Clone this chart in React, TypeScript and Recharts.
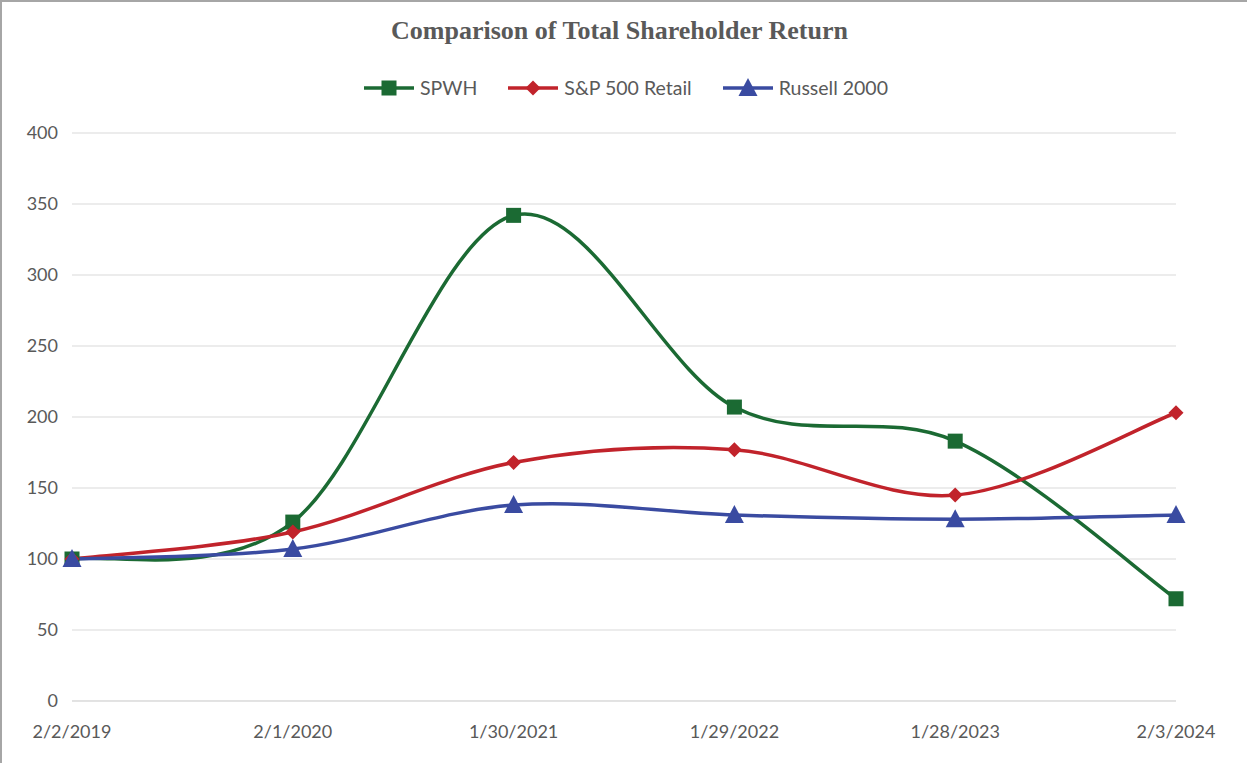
import React from "react";
import { LineChart, Line, XAxis, YAxis, CartesianGrid } from "recharts";

const dates = ["2/2/2019", "2/1/2020", "1/30/2021", "1/29/2022", "1/28/2023", "2/3/2024"];
const spwh = [100, 126, 342, 207, 183, 72];
const spRetail = [100, 119, 168, 177, 145, 203];
const russell = [100, 107, 138, 131, 128, 131];
const yTicks = [0, 50, 100, 150, 200, 250, 300, 350, 400];

const data = dates.map((d, i) => ({ date: d, spwh: spwh[i], retail: spRetail[i], russell: russell[i] }));

const GREEN = "#1b6a33";
const RED = "#c1232b";
const BLUE = "#3a4ba1";
const TEXT = "#595959";
const FONT = "Lato, 'Open Sans', sans-serif";

// excel-style smoothing (catmull-rom as bezier)
function excelCurve(context: any) {
  let pts: number[][] = [];
  return {
    areaStart() {},
    areaEnd() {},
    lineStart() {
      pts = [];
    },
    point(x: number, y: number) {
      pts.push([+x, +y]);
    },
    lineEnd() {
      if (!pts.length) return;
      context.moveTo(pts[0][0], pts[0][1]);
      for (let i = 0; i < pts.length - 1; i++) {
        const p0 = pts[i - 1] || pts[i];
        const p1 = pts[i];
        const p2 = pts[i + 1];
        const p3 = pts[i + 2] || p2;
        context.bezierCurveTo(
          p1[0] + (p2[0] - p0[0]) / 6,
          p1[1] + (p2[1] - p0[1]) / 6,
          p2[0] - (p3[0] - p1[0]) / 6,
          p2[1] - (p3[1] - p1[1]) / 6,
          p2[0],
          p2[1]
        );
      }
    },
  };
}

function Marker({ kind, cx, cy, color }: { kind: string; cx: number; cy: number; color: string }) {
  if (kind === "square") return <rect x={cx - 7.5} y={cy - 7.5} width={15} height={15} fill={color} />;
  if (kind === "diamond")
    return <polygon points={`${cx},${cy - 7.5} ${cx + 7.5},${cy} ${cx},${cy + 7.5} ${cx - 7.5},${cy}`} fill={color} />;
  return <polygon points={`${cx},${cy - 10} ${cx + 9.5},${cy + 8} ${cx - 9.5},${cy + 8}`} fill={color} />;
}

const dot = (kind: string, color: string) => (p: any) =>
  <Marker key={p.index} kind={kind} cx={p.cx} cy={p.cy} color={color} />;

const legendItems = [
  { name: "SPWH", kind: "square", color: GREEN },
  { name: "S&P 500 Retail", kind: "diamond", color: RED },
  { name: "Russell 2000", kind: "triangle", color: BLUE },
];

function LegendContent() {
  return (
    <div style={{ display: "flex", justifyContent: "center", gap: 30, fontFamily: FONT, fontSize: 19.5, color: TEXT }}>
      {legendItems.map((it) => (
        <div key={it.name} style={{ display: "flex", alignItems: "center" }}>
          <svg width={52} height={22} style={{ marginRight: 5 }}>
            <line x1={1} y1={11} x2={51} y2={11} stroke={it.color} strokeWidth={3.5} />
            <Marker kind={it.kind} cx={26} cy={11} color={it.color} />
          </svg>
          <span>{it.name}</span>
        </div>
      ))}
    </div>
  );
}

export default function App() {
  return (
    <div
      style={{
        position: "absolute",
        left: 0,
        top: 0,
        width: 1247,
        height: 763,
        background: "#fff",
        borderTop: "2px solid #a6a6a6",
        borderLeft: "2px solid #a6a6a6",
        boxSizing: "border-box",
      }}
    >
      <div
        style={{
          position: "absolute",
          left: -6,
          top: 14,
          width: 1247,
          textAlign: "center",
          fontFamily: "'Liberation Serif', 'Times New Roman', serif",
          fontWeight: "bold",
          fontSize: 26,
          color: TEXT,
        }}
      >
        Comparison of Total Shareholder Return
      </div>
      <div style={{ position: "absolute", left: -2, top: -2 }}>
        <LineChart width={1247} height={763} data={data} margin={{ top: 133, right: 71, bottom: 32, left: 12 }}>
          <CartesianGrid vertical={false} stroke="#d9d9d9" strokeWidth={1} />
          <XAxis
            dataKey="date"
            axisLine={{ stroke: "#d9d9d9" }}
            tickLine={false}
            tick={{ fill: TEXT, fontSize: 18, fontFamily: FONT }}
            tickMargin={18}
            interval={0}
            height={30}
          />
          <YAxis
            domain={[0, 400]}
            ticks={yTicks}
            axisLine={false}
            tickLine={false}
            width={60}
            tick={{ fill: TEXT, fontSize: 18, fontFamily: FONT }}
            tickMargin={8}
          />
          <Line dataKey="spwh" name="SPWH" type={excelCurve as any} stroke={GREEN} strokeWidth={3.5} dot={dot("square", GREEN)} isAnimationActive={false} />
          <Line dataKey="retail" name="S&P 500 Retail" type={excelCurve as any} stroke={RED} strokeWidth={3.5} dot={dot("diamond", RED)} isAnimationActive={false} />
          <Line dataKey="russell" name="Russell 2000" type={excelCurve as any} stroke={BLUE} strokeWidth={3.5} dot={dot("triangle", BLUE)} isAnimationActive={false} />
        </LineChart>
      </div>
      <div style={{ position: "absolute", left: 0, top: 74, width: 1247 }}>
        <LegendContent />
      </div>
    </div>
  );
}
